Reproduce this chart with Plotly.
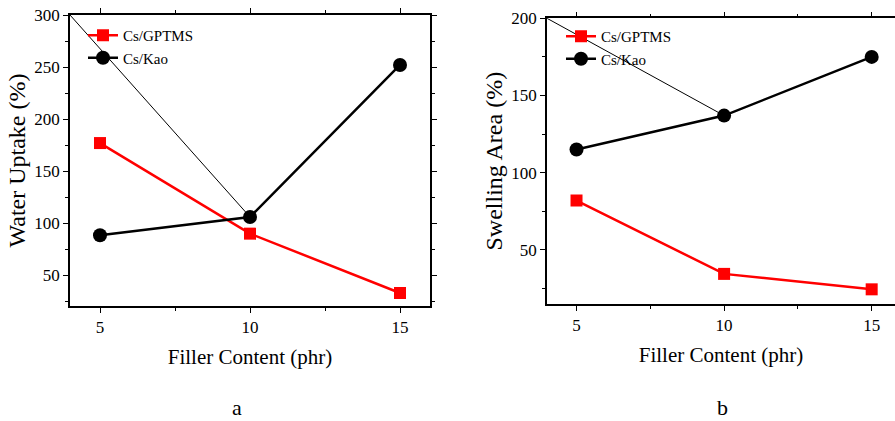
import plotly.graph_objects as go

filler = [5, 10, 15]
uptake_gptms = [177, 90, 33]
uptake_kao = [88.5, 106, 252]
swell_gptms = [82, 34.5, 24.5]
swell_kao = [115, 137, 175]
# stray thin line present in the original figure
stray_x = [4, 10]
stray_uptake = [300, 106]
stray_swell = [200, 137]

FONT = "Liberation Serif"
RED = "#ff0000"
BLK = "#000000"

fig = go.Figure()

def add_series(x, y, name, color, symbol, size, xa, ya, legend, show):
    fig.add_trace(go.Scatter(
        x=x, y=y, name=name, mode="lines+markers",
        line=dict(color=color, width=2.5),
        marker=dict(color=color, symbol=symbol, size=size),
        xaxis=xa, yaxis=ya, legend=legend, showlegend=show))

for (ga, ka, sy, xa, ya, lg) in [
    (uptake_gptms, uptake_kao, stray_uptake, "x", "y", "legend"),
    (swell_gptms, swell_kao, stray_swell, "x2", "y2", "legend2"),
]:
    fig.add_trace(go.Scatter(x=stray_x, y=sy, mode="lines",
                             line=dict(color=BLK, width=1),
                             xaxis=xa, yaxis=ya, showlegend=False, hoverinfo="skip"))
    add_series(filler, ga, "Cs/GPTMS", RED, "square", 12, xa, ya, lg, True)
    add_series(filler, ka, "Cs/Kao", BLK, "circle", 14, xa, ya, lg, True)

W, H = 895, 421

def px_x(v):
    return v / W

def px_y(v):
    return 1 - v / H

axis_common = dict(
    showline=True, linecolor=BLK, linewidth=1.5, mirror="ticks",
    ticks="outside", ticklen=5, tickwidth=1.2, tickcolor=BLK,
    showgrid=False, zeroline=False, automargin=False,
    tickfont=dict(family=FONT, size=17, color=BLK),
)
minor_x = dict(dtick=2.5, tick0=0, ticks="outside", ticklen=3, tickcolor=BLK)
minor_y = dict(dtick=25, tick0=0, ticks="outside", ticklen=3, tickcolor=BLK)
xtitle_font = dict(family=FONT, size=21, color=BLK)
ytitle_font = dict(family=FONT, size=24, color=BLK)

fig.update_layout(
    width=W, height=H,
    margin=dict(l=0, r=0, t=0, b=0),
    paper_bgcolor="white", plot_bgcolor="white",
    font=dict(family=FONT, color=BLK),
    xaxis=dict(**axis_common, domain=[px_x(70), px_x(430)], range=[4, 16],
               tickvals=[5, 10, 15], minor=minor_x,
               title=dict(text="Filler Content (phr)", font=xtitle_font, standoff=13),
               anchor="y"),
    yaxis=dict(**axis_common, domain=[px_y(306), px_y(15)], range=[20.5, 300],
               tickvals=[50, 100, 150, 200, 250, 300], minor=minor_y,
               title=dict(text="Water Uptake (%)", font=ytitle_font, standoff=2),
               anchor="x"),
    xaxis2=dict(**axis_common, domain=[px_x(547), 1.0], range=[4, 15.79],
                tickvals=[5, 10, 15], minor=minor_x,
                title=dict(text="Filler Content (phr)", font=xtitle_font, standoff=13),
                anchor="y2"),
    yaxis2=dict(**{**axis_common, "mirror": False}, domain=[px_y(304), px_y(18.3)], range=[15, 200],
                tickvals=[50, 100, 150, 200], minor=minor_y,
                title=dict(text="Swelling Area (%)", font=ytitle_font, standoff=2),
                anchor="x2"),
    legend=dict(x=px_x(83), y=px_y(19), xanchor="left", yanchor="top",
                bgcolor="rgba(0,0,0,0)", font=dict(family=FONT, size=15, color=BLK),
                tracegroupgap=0, itemwidth=30),
    legend2=dict(x=px_x(561), y=px_y(20), xanchor="left", yanchor="top",
                 bgcolor="rgba(0,0,0,0)", font=dict(family=FONT, size=15, color=BLK),
                 tracegroupgap=0, itemwidth=30),
    annotations=[
        dict(text="a", x=px_x(237), y=px_y(407), xref="paper", yref="paper",
             xanchor="center", yanchor="middle",
             showarrow=False, font=dict(family=FONT, size=22, color=BLK)),
        dict(text="b", x=px_x(722), y=px_y(407), xref="paper", yref="paper",
             xanchor="center", yanchor="middle",
             showarrow=False, font=dict(family=FONT, size=22, color=BLK)),
    ],
)

fig.write_html("out.html", config={"displayModeBar": False},
               post_script="document.body.style.margin='0px';")
